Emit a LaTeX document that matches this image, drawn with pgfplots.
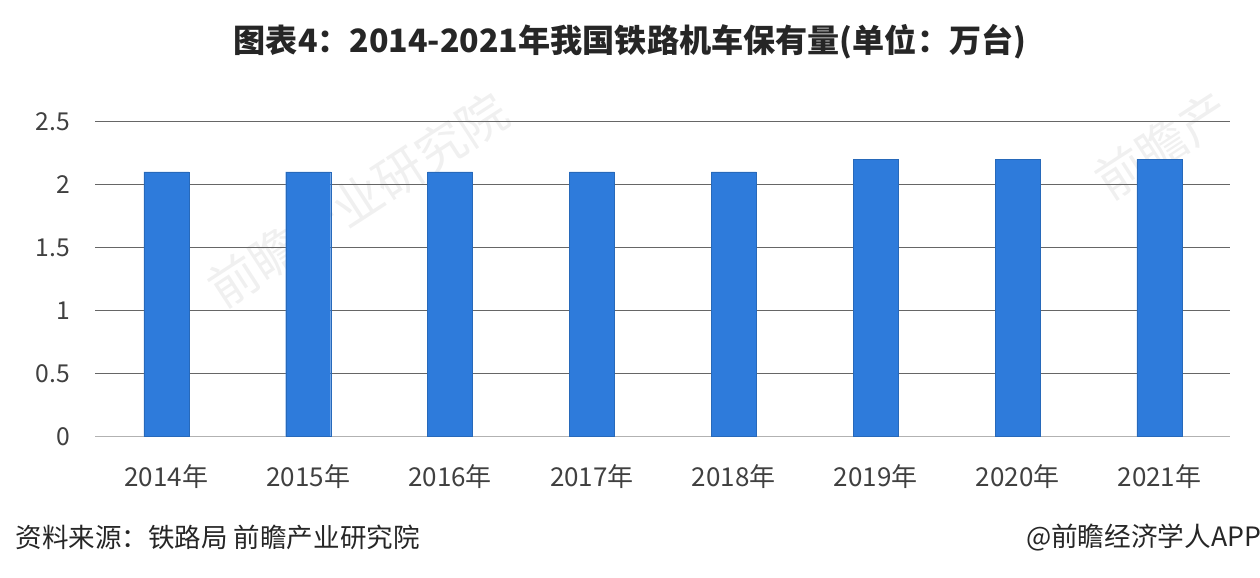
\documentclass[border=0pt]{standalone}
\usepackage{pgfplots}
\pgfplotsset{compat=1.18}
\usepackage{fontspec}
\setmainfont{Liberation Sans}
\newfontfamily\cjk{Noto Sans CJK SC}
\definecolor{barblue}{HTML}{2E7BDB}
\definecolor{txt}{HTML}{404040}
\begin{document}
\begin{tikzpicture}[x=0.75pt,y=0.75pt]
\path[use as bounding box] (0,0) rectangle (1260,578);
\node[rotate=33,font=\cjk\fontsize{37}{39}\selectfont,text=black!6,inner sep=0pt] at (358,378) {前瞻产业研究院};
\node[rotate=33,font=\cjk\fontsize{37}{39}\selectfont,text=black!6,inner sep=0pt,anchor=west] at (1100,392) {前瞻产};
\begin{axis}[
  at={(67.25,112.25)},anchor=south west,
  width=1135*0.75pt,height=315*0.75pt,scale only axis,
  xmin=-0.5,xmax=7.5,ymin=0,ymax=2.5,
  ytick={0,0.5,1,1.5,2,2.5},
  yticklabels={0,0.5,1,1.5,2,2.5},
  xtick=data,
  xticklabels={{\cjk 2014年},{\cjk 2015年},{\cjk 2016年},{\cjk 2017年},{\cjk 2018年},{\cjk 2019年},{\cjk 2020年},{\cjk 2021年}},
  ymajorgrids,
  grid style={draw=black!60,line width=0.6pt},
  axis y line*=left,axis x line*=bottom,
  y axis line style={draw=none},
  x axis line style={draw=black!30,-},
  major tick style={draw=none},
  ticklabel style={font=\fontsize{19.5}{22}\selectfont,text=txt},
  yticklabel style={xshift=-15.5pt,font=\cjk\fontsize{18.5}{22}\selectfont},
  xticklabel style={yshift=-13pt},
  ybar,bar width=45*0.75pt,
  clip=false,
]
\addplot[fill=barblue,draw=barblue!85!black,line width=0.3pt] coordinates {(0,2.1)(1,2.1)(2,2.1)(3,2.1)(4,2.1)(5,2.2)(6,2.2)(7,2.2)};
\end{axis}
\node[anchor=center,font=\cjk\bfseries\fontsize{24.1}{28}\selectfont,text=black!85] at (630,536) {图表4：2014-2021年我国铁路机车保有量(单位：万台)};
\node[anchor=west,font=\cjk\fontsize{19.9}{22}\selectfont,text=black!85] at (11,41) {资料来源：铁路局 前瞻产业研究院};
\node[anchor=east,font=\cjk\fontsize{20}{22}\selectfont,text=black!85] at (1266,41) {@前瞻经济学人APP};
\end{tikzpicture}
\end{document}
